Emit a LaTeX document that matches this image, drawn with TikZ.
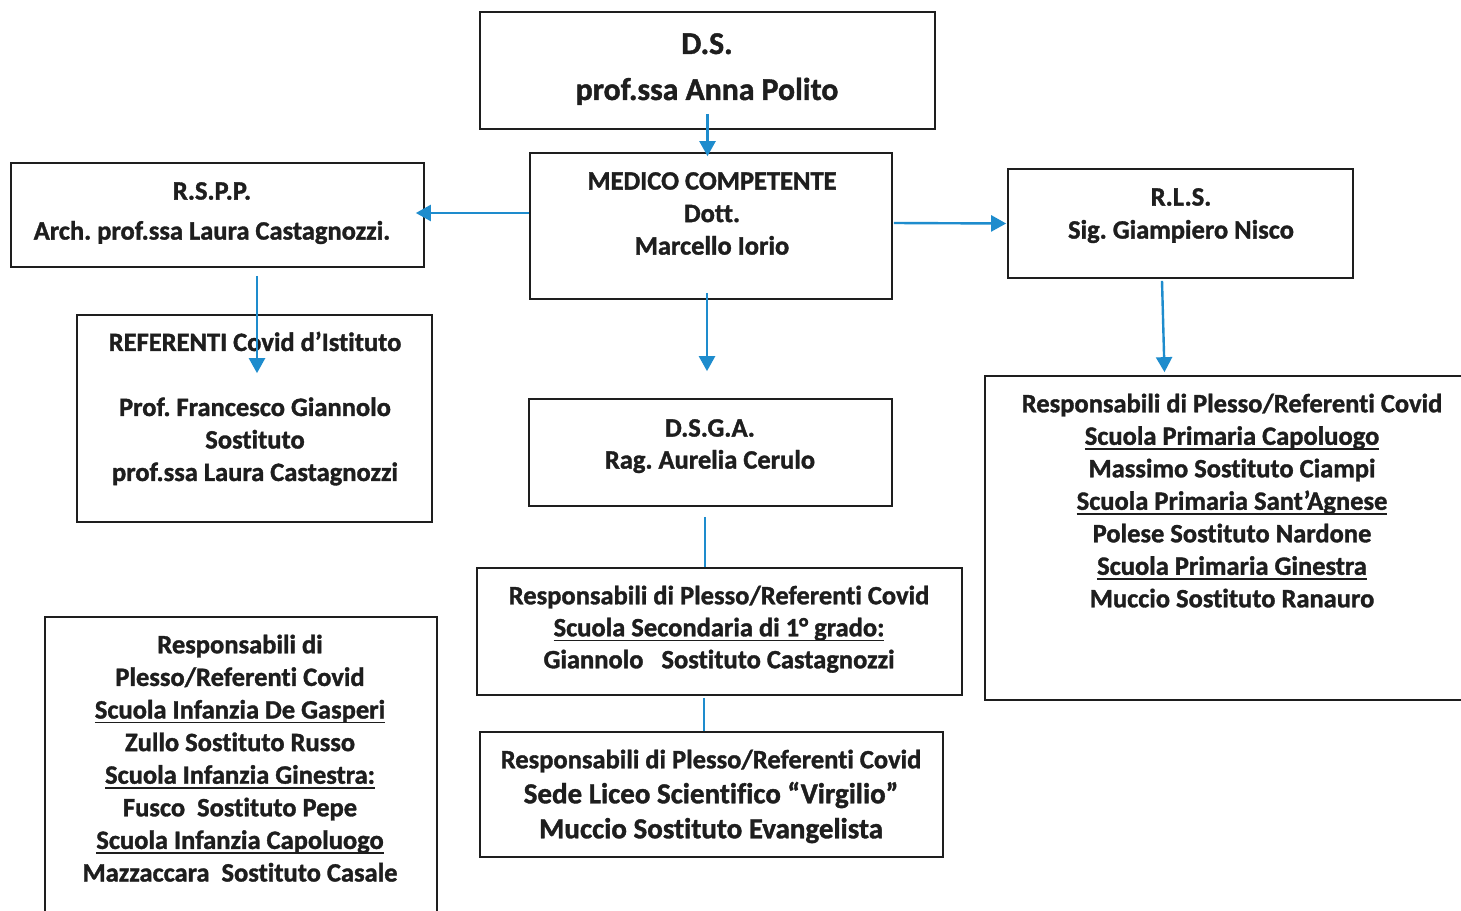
\documentclass[tikz,border=0pt]{standalone}
\usepackage{fontspec}
\setmainfont{Carlito}[Ligatures=NoCommon, BoldFeatures={FakeBold=1.3}]
\usetikzlibrary{arrows.meta,calc}
\definecolor{azzurro}{RGB}{30,140,205}
\definecolor{inchiostro}{RGB}{30,30,30}
\def\sott#1{\setbox0=\hbox{#1}\rlap{\rule[-4.8pt]{\wd0}{1.6pt}}\box0}
\frenchspacing

\tikzset{
	riquadro/.style={draw=inchiostro, line width=1.7pt, rectangle, inner sep=0pt},
	testo/.style={font=\bfseries\fontsize{26.5}{32.5}\selectfont, text=inchiostro, align=center, inner sep=0pt, anchor=north},
	freccia/.style={draw=azzurro, line width=2.4pt, -{Triangle[width=16pt,length=15pt]}},
	linea/.style={draw=azzurro, line width=2.4pt}
}

\begin{document}
\begin{tikzpicture}[x=1pt,y=-1pt]
			%%%%% START %%%%%
			\useasboundingbox (0,0) rectangle (1461,910);
			\clip (0,0) rectangle (1461,910);
			\fill[white] (0,0) rectangle (1461,910);
			
			% riquadri
			\node[riquadro, minimum width=455, minimum height=117] (ds) at (707.5,70.5) {};
			\node[riquadro, minimum width=362, minimum height=146] (medico) at (711,226) {};
			\node[riquadro, minimum width=413, minimum height=104] (rspp) at (217.5,215) {};
			\node[riquadro, minimum width=355, minimum height=207] (referenti) at (254.5,418.5) {};
			\node[riquadro, minimum width=345, minimum height=109] (rls) at (1180.5,223.5) {};
			\node[riquadro, minimum width=490, minimum height=324] (primaria) at (1230,538) {};
			\node[riquadro, minimum width=363, minimum height=107] (dsga) at (710.5,452.5) {};
			\node[riquadro, minimum width=485, minimum height=127] (secondaria) at (719.5,631.5) {};
			\node[riquadro, minimum width=463, minimum height=125] (liceo) at (711.5,794.5) {};
			\node[riquadro, minimum width=392, minimum height=308] (infanzia) at (241,771) {};
			
			% testi
			\node[testo, font=\bfseries\fontsize{31.7}{46}\selectfont] (dsT) at (707,33) {D.S.\\prof.ssa Anna Polito};
			\node[testo] (medicoT) at (712,172) {MEDICO COMPETENTE\\Dott.\\Marcello Iorio};
			\node[testo, font=\bfseries\fontsize{26.5}{40}\selectfont] (rsppT) at (212,182) {R.S.P.P.\\Arch. prof.ssa Laura Castagnozzi.};
			\node[testo] (referentiT) at (255,331.5) {REFERENTI Covid d’Istituto\\[32.5pt]Prof. Francesco Giannolo\\Sostituto\\prof.ssa Laura Castagnozzi};
			\node[testo, font=\bfseries\fontsize{26.5}{33}\selectfont] (rlsT) at (1181,188) {R.L.S.\\Sig. Giampiero Nisco};
			\node[testo] (primariaT) at (1232,393.5) {Responsabili di Plesso/Referenti Covid\\\sott{Scuola Primaria Capoluogo}\\Massimo Sostituto Ciampi\\\sott{Scuola Primaria Sant’Agnese}\\Polese Sostituto Nardone\\\sott{Scuola Primaria Ginestra}\\Muccio Sostituto Ranauro};
			\node[testo, font=\bfseries\fontsize{26.5}{32}\selectfont] (dsgaT) at (710,419) {D.S.G.A.\\Rag. Aurelia Cerulo};
			\node[testo, font=\bfseries\fontsize{26.5}{32}\selectfont] (secondariaT) at (719,585.5) {Responsabili di Plesso/Referenti Covid\\\sott{Scuola Secondaria di 1° grado:}\\Giannolo~~~Sostituto Castagnozzi};
			\node[testo, font=\bfseries\fontsize{26.5}{35}\selectfont] (liceoT) at (711,749.5) {Responsabili di Plesso/Referenti Covid\\{\fontsize{29}{35}\selectfont Sede Liceo Scientifico “Virgilio”}\\{\fontsize{29}{35}\selectfont Muccio Sostituto Evangelista}};
			\node[testo, font=\bfseries\fontsize{26.5}{32.6}\selectfont] (infanziaT) at (240,634.5) {Responsabili di\\Plesso/Referenti Covid\\\sott{Scuola Infanzia De Gasperi}\\Zullo Sostituto Russo\\\sott{Scuola Infanzia Ginestra:}\\Fusco~~Sostituto Pepe\\\sott{Scuola Infanzia Capoluogo}\\Mazzaccara~~Sostituto Casale};
			
			% frecce
			\draw[freccia] ($(ds.south)+(0,-16)$) -- ($(ds.south |- medico.north)+(0,4)$);
			\draw[freccia] ($(medico.west)+(0,-13)$) -- ($(rspp.east)+(-9,-2)$);
			\draw[freccia] ($(medico.east)+(1,-3)$) -- ($(rls.west)+(-1,0)$);
			\draw[freccia] ($(rspp.south)+(39.5,8)$) -- ($(referenti.north)+(2.5,59)$);
			\draw[freccia] ($(medico.south)+(-4,-7)$) -- ($(dsga.north)+(-3.5,-27)$);
			\draw[freccia] ($(rls.south)+(-18.5,2)$) -- ($(primaria.north)+(-65.5,-3)$);
			
			\draw[linea] ($(dsga.south)+(-5.5,10)$) -- ($(secondaria.north)+(-14.5,0)$);
			\draw[linea] ($(secondaria.south)+(-15.5,2)$) -- ($(liceo.north)+(-7.5,0)$);
			%%%%% END %%%%%
\end{tikzpicture}
\end{document}
